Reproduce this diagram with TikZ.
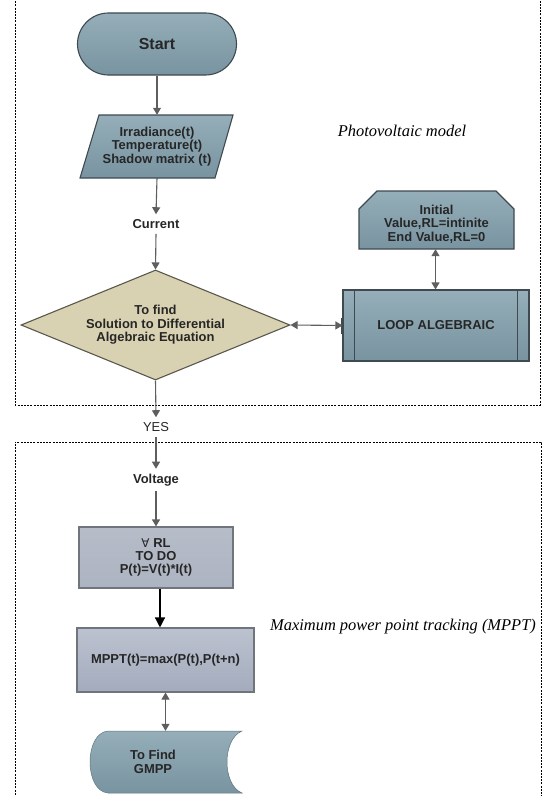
\documentclass[tikz,border=0pt]{standalone}
\usepackage{fontspec}
\setmainfont{Liberation Sans}
\newfontfamily\serifit{Liberation Serif}
\newfontfamily\symf{DejaVu Sans}
\usetikzlibrary{arrows.meta,shapes.geometric}
\definecolor{tealA}{HTML}{95AEB9}
\definecolor{tealB}{HTML}{7894A0}
\definecolor{edgeC}{HTML}{3E4A50}
\definecolor{beige}{HTML}{D9D2B2}
\definecolor{beigeE}{HTML}{5A574C}
\definecolor{greyA}{HTML}{B6BDC9}
\definecolor{greyB}{HTML}{ADB4C1}
\definecolor{mpA}{HTML}{BCC2CF}
\definecolor{mpB}{HTML}{A3ABBD}
\definecolor{greyE}{HTML}{70757D}
\definecolor{arrc}{HTML}{5E5E5E}
\definecolor{txtc}{HTML}{262626}
\tikzset{
  txt/.style={font=\fontsize{13}{13.4}\selectfont\bfseries, text=txtc, align=center, inner sep=0pt},
  lbl/.style={font=\fontsize{13}{14}\selectfont\bfseries, text=txtc, inner xsep=2bp, inner ysep=5bp},
  tealfill/.style={top color=tealA, bottom color=tealB, draw=edgeC, line width=1.1bp},
  garrow/.style={draw=arrc, line width=1.1bp, -{Triangle[width=8bp,length=7bp]}},
  dblarrow/.style={draw=arrc, line width=1.1bp, {Triangle[width=8bp,length=7bp]}-{Triangle[width=8bp,length=7bp]}},
  barrow/.style={draw=black, line width=1.3bp, -{Triangle[width=10bp,length=10bp]}},
  frame/.style={draw=black, line width=0.7bp, dash pattern=on 2bp off 1.2bp},
  captxt/.style={font=\serifit\itshape\fontsize{16.5}{18}\selectfont, text=black, inner sep=0pt}
}
\begin{document}
\begin{tikzpicture}[x=1bp,y=-1bp]
\useasboundingbox (0,0) rectangle (545,796);
% frames
\path[frame] (15,-2) -- (15,405) -- (540,405) -- (540,-2);
\path[frame] (15,798) -- (15,442) -- (541,442) -- (541,798);

% start
\node[txt, tealfill, font=\fontsize{16}{18}\selectfont\bfseries, minimum width=159bp, minimum height=62bp, rounded corners=31bp] (start) at (157,44) {Start};

% input parallelogram
\path[tealfill] (99,115) -- (233,115) -- (215,178) -- (80,178) -- cycle;
\node[txt, minimum width=150bp, minimum height=63bp] (inp) at (157,146.5) {Irradiance(t)\\Temperature(t)\\Shadow matrix (t)};

% current
\node[lbl] (cur) at (156,224) {Current};

% diamond
\node[txt, diamond, draw=beigeE, fill=beige, line width=1.1bp, minimum width=269bp, minimum height=110bp, aspect=2.445] (dia) at (155.5,325) {To find\\Solution to Differential\\Algebraic Equation};

% loop box
\node[txt, tealfill, minimum width=186bp, minimum height=71bp] (loop) at (436,325.5) {LOOP ALGEBRAIC};
\draw[edgeC, line width=0.8bp] ([xshift=12bp]loop.north west) -- ([xshift=12bp]loop.south west);
\draw[edgeC, line width=0.8bp] ([xshift=-12bp]loop.north east) -- ([xshift=-12bp]loop.south east);
\draw[edgeC, line width=2bp] ([yshift=-8bp]loop.west) -- ([yshift=8bp]loop.west);

% initial (chamfered)
\path[tealfill] (359,249) -- (359,209) -- (377,191) -- (496,191) -- (514,209) -- (514,249) -- cycle;
\node[txt, minimum width=155bp, minimum height=50bp] (init) at (436.5,224) {Initial\\Value,RL=intinite\\End Value,RL=0};

% captions
\node[captxt] (pvm) at (402,131) {Photovoltaic model};
\node[captxt] (mppcap) at (403,627) {Maximum power point tracking (MPPT)};

% yes, voltage
\node[font=\fontsize{13}{14}\selectfont, text=txtc, inner xsep=2bp, inner ysep=5bp] (yes) at (156,427) {YES};
\node[lbl] (volt) at (156,480) {Voltage};

% forall box
\node[txt, draw=greyE, line width=1.1bp, top color=greyA, bottom color=greyB, minimum width=154bp, minimum height=61bp] (fa) at (156,557.5) {{\symf\mdseries\fontsize{12}{13}\selectfont ∀} RL\\TO DO\\P(t)=V(t)*I(t)};

% mppt box
\node[txt, draw=greyE, line width=1.1bp, top color=mpA, bottom color=mpB, minimum width=177bp, minimum height=64bp] (mppt) at (165.5,660) {MPPT(t)=max(P(t),P(t+n)};

% GMPP stored data shape
\path[top color=tealA, bottom color=tealB, draw=tealB!80!black, line width=0.5bp]
  (242,731) -- (108,731) .. controls (84,733) and (84,791) .. (108,793) -- (242,793)
  .. controls (222,785) and (222,739) .. (242,731) -- cycle;
\node[txt, minimum width=120bp, minimum height=62bp] (gmpp) at (153,762) {To Find\\GMPP};

% connectors
\draw[garrow] (start.south) -- (start.south |- inp.north);
\draw[garrow] (inp.south) -- (cur.north);
\draw[garrow] (cur.south) -- (dia.north);
\draw[dblarrow] (dia.east) -- (loop.west);
\draw[dblarrow] (init.south -| 435.5,0) -- (loop.north -| 435.5,0);
\draw[garrow] (dia.south) -- (yes.north);
\draw[garrow] (yes.south) -- (volt.north);
\draw[garrow] (volt.south) -- (fa.north);
\draw[barrow] ([xshift=4bp]fa.south) -- ([xshift=4bp]fa.south |- mppt.north);
\draw[dblarrow] (mppt.south) -- (mppt.south |- gmpp.north);
\end{tikzpicture}
\end{document}
